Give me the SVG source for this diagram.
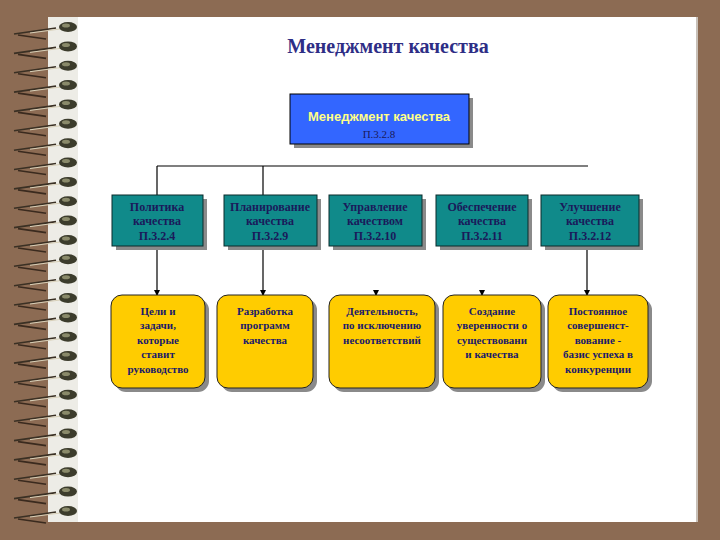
<svg xmlns="http://www.w3.org/2000/svg" width="720" height="540" viewBox="0 0 720 540">
<defs>
<style>
.t{font-family:"Liberation Serif",serif;font-weight:bold;font-size:11px;fill:#1A1A6A;text-anchor:middle}
.tt{font-family:"Liberation Serif",serif;font-weight:bold;font-size:12px;fill:#1A1A5A;text-anchor:middle}
.teal{fill:#108A8A;stroke:#0A2A2A;stroke-width:1}
.yel{fill:#FFCC00;stroke:#222;stroke-width:1}
.sh{fill:#8A8A8A}
.ln{stroke:#000;stroke-width:1.2;fill:none}
</style>
<marker id="ah" markerWidth="6" markerHeight="6" refX="5" refY="3" orient="auto" markerUnits="userSpaceOnUse">
<path d="M0,0 L6,3 L0,6 Z" fill="#000"/>
</marker>
<g id="ring">
<path d="M14,7 L56,1" stroke="#3A3024" stroke-width="1.6" fill="none"/>
<path d="M30,6 L60,2" stroke="#D8D0B8" stroke-width="1" fill="none"/>
<path d="M18,8 L46,12" stroke="#3A2A1E" stroke-width="1.6" fill="none"/>
<ellipse cx="68" cy="0" rx="9" ry="5" fill="#3C3C2C"/>
<ellipse cx="66" cy="-1.5" rx="4" ry="2" fill="#8A8A6A"/>
</g>
</defs>
<rect width="720" height="540" fill="#8C6B53"/>
<rect x="48" y="17" width="650" height="505" fill="#FFFFFF"/>
<rect x="696" y="17" width="2" height="505" fill="#C8C0B8"/>
<rect x="48" y="17" width="30" height="505" fill="#EDECE6"/>
<g id="spiral">
<use href="#ring" y="27"/><use href="#ring" y="46.4"/><use href="#ring" y="65.7"/><use href="#ring" y="85.1"/><use href="#ring" y="104.4"/><use href="#ring" y="123.8"/><use href="#ring" y="143.2"/><use href="#ring" y="162.5"/><use href="#ring" y="181.9"/><use href="#ring" y="201.2"/><use href="#ring" y="220.6"/><use href="#ring" y="240"/><use href="#ring" y="259.3"/><use href="#ring" y="278.7"/><use href="#ring" y="298"/><use href="#ring" y="317.4"/><use href="#ring" y="336.8"/><use href="#ring" y="356.1"/><use href="#ring" y="375.5"/><use href="#ring" y="394.8"/><use href="#ring" y="414.2"/><use href="#ring" y="433.6"/><use href="#ring" y="452.9"/><use href="#ring" y="472.3"/><use href="#ring" y="491.6"/><use href="#ring" y="511"/>
</g>
<text x="388" y="53" font-family="'Liberation Serif',serif" font-weight="bold" font-size="20" fill="#2E2E86" text-anchor="middle">Менеджмент качества</text>

<g id="connectors">
<path class="ln" d="M157,166 H588"/>
<path class="ln" d="M157,166 V195"/>
<path class="ln" d="M263,166 V195"/>
<path class="ln" d="M157,246 V295" marker-end="url(#ah)"/>
<path class="ln" d="M263,246 V295" marker-end="url(#ah)"/>
<path class="ln" d="M587,246 V295" marker-end="url(#ah)"/>
<path class="ln" d="M376,290 V295" marker-end="url(#ah)"/>
<path class="ln" d="M482,290 V295" marker-end="url(#ah)"/>
</g>

<g id="top">
<rect class="sh" x="294" y="98" width="179" height="50"/>
<rect x="290" y="94" width="179" height="50" fill="#3366FF" stroke="#000" stroke-width="1"/>
<text x="379" y="121" font-family="'Liberation Sans',sans-serif" font-weight="bold" font-size="13" fill="#FFFF88" text-anchor="middle">Менеджмент качества</text>
<text x="379" y="138" font-family="'Liberation Serif',serif" font-size="11" fill="#1A1A5A" text-anchor="middle">П.3.2.8</text>
</g>

<g id="t1"><rect class="sh" x="116" y="199" width="91" height="51"/><rect class="teal" x="112" y="195" width="91" height="51"/>
<text class="tt" x="157" y="211">Политика</text><text class="tt" x="157" y="225">качества</text><text class="tt" x="157" y="240">П.3.2.4</text></g>
<g id="t2"><rect class="sh" x="228" y="199" width="93" height="51"/><rect class="teal" x="224" y="195" width="93" height="51"/>
<text class="tt" x="270" y="211">Планирование</text><text class="tt" x="270" y="225">качества</text><text class="tt" x="270" y="240">П.3.2.9</text></g>
<g id="t3"><rect class="sh" x="333" y="199" width="93" height="51"/><rect class="teal" x="329" y="195" width="93" height="51"/>
<text class="tt" x="375" y="211">Управление</text><text class="tt" x="375" y="225">качеством</text><text class="tt" x="375" y="240">П.3.2.10</text></g>
<g id="t4"><rect class="sh" x="440" y="199" width="92" height="51"/><rect class="teal" x="436" y="195" width="92" height="51"/>
<text class="tt" x="482" y="211">Обеспечение</text><text class="tt" x="482" y="225">качества</text><text class="tt" x="482" y="240">П.3.2.11</text></g>
<g id="t5"><rect class="sh" x="545" y="199" width="98" height="51"/><rect class="teal" x="541" y="195" width="98" height="51"/>
<text class="tt" x="590" y="211">Улучшение</text><text class="tt" x="590" y="225">качества</text><text class="tt" x="590" y="240">П.3.2.12</text></g>

<g id="y1"><rect class="sh" x="115" y="299" width="94" height="93" rx="11"/><rect class="yel" x="111" y="295" width="94" height="93" rx="11"/>
<text class="t" x="158" y="315">Цели и</text><text class="t" x="158" y="329">задачи,</text><text class="t" x="158" y="344">которые</text><text class="t" x="158" y="358">ставит</text><text class="t" x="158" y="373">руководство</text></g>
<g id="y2"><rect class="sh" x="221" y="299" width="96" height="93" rx="11"/><rect class="yel" x="217" y="295" width="96" height="93" rx="11"/>
<text class="t" x="265" y="315">Разработка</text><text class="t" x="265" y="329">программ</text><text class="t" x="265" y="344">качества</text></g>
<g id="y3"><rect class="sh" x="333" y="299" width="106" height="93" rx="11"/><rect class="yel" x="329" y="295" width="106" height="93" rx="11"/>
<text class="t" x="382" y="315">Деятельность,</text><text class="t" x="382" y="329">по исключению</text><text class="t" x="382" y="344">несоответствий</text></g>
<g id="y4"><rect class="sh" x="447" y="299" width="98" height="93" rx="11"/><rect class="yel" x="443" y="295" width="98" height="93" rx="11"/>
<text class="t" x="492" y="315">Создание</text><text class="t" x="492" y="329">уверенности о</text><text class="t" x="492" y="344">существовани</text><text class="t" x="492" y="358">и качества</text></g>
<g id="y5"><rect class="sh" x="552" y="299" width="100" height="93" rx="11"/><rect class="yel" x="548" y="295" width="100" height="93" rx="11"/>
<text class="t" x="598" y="315">Постоянное</text><text class="t" x="598" y="329">совершенст-</text><text class="t" x="598" y="344">вование -</text><text class="t" x="598" y="358">базис успеха в</text><text class="t" x="598" y="373">конкуренции</text></g>
</svg>
